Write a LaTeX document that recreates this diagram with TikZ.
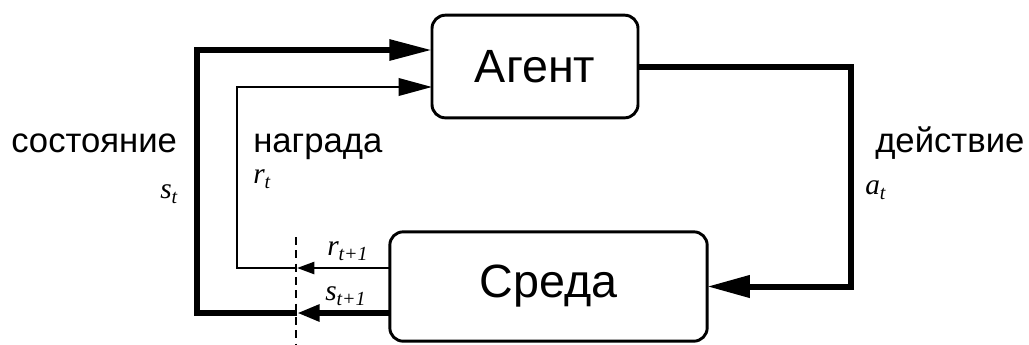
\documentclass[tikz,border=0pt]{standalone}
\usepackage{fontspec}
\setmainfont{Liberation Sans}
\newfontfamily\mserif{Liberation Serif}
\usetikzlibrary{arrows.meta}
\newcommand\mv[2]{{\fontsize{22}{26}\selectfont\mserif\itshape #1}\raisebox{-4pt}{\fontsize{15}{18}\selectfont\mserif\itshape #2}}
\begin{document}
\begin{tikzpicture}[x=0.75pt,y=-0.75pt,
 box/.style={draw, line width=2.2pt, rounded corners=10pt, inner sep=0pt, outer sep=0pt, font=\fontsize{35}{40}\selectfont},
 lab/.style={inner sep=0pt, anchor=base west, font=\fontsize{26}{30}\selectfont},
 mlab/.style={inner sep=0pt, anchor=base west},
 fat/.style={line width=4.5pt},
 slim/.style={line width=1.9pt},
 dashline/.style={line width=1.1pt, dash pattern=on 6pt off 4pt},
]
\useasboundingbox (0,0) rectangle (1029,344);
\node[box, minimum width=154.5pt, minimum height=77pt] (agent) at (535,66.5) {Агент};
\node[box, minimum width=238pt, minimum height=82pt] (env) at (548.5,286.5) {Среда};

\coordinate (dtop) at (296,237);
\coordinate (dbot) at (296,346);
\coordinate (ds) at (297,313);
\coordinate (dr) at (297,268);
\coordinate (sl) at (197,313);
\coordinate (su) at (197,50);
\coordinate (rl) at (237,268);
\coordinate (ru) at (237,87);
\coordinate (ab) at (851,286.5);

\draw[dashline] (dtop) -- (dbot);
\draw[fat, -{Triangle[length=17pt,width=12pt]}] (env.west |- ds) -- (ds);
\draw[fat, -{Triangle[length=32pt,width=15pt]}] (ds) -- (sl) -- (su) -- (agent.west |- su);
\draw[slim, -{Triangle[length=13pt,width=9pt]}] (env.west |- dr) -- (dr);
\draw[slim, -{Triangle[length=25pt,width=13pt]}] (dr) -- (rl) -- (ru) -- (agent.west |- ru);
\draw[fat, -{Triangle[length=32pt,width=16pt]}] (agent.east) -| (ab) -- (env.east);

\node[lab] (lstate) at (11,152) {состояние};
\node[lab] (lreward) at (253,152) {награда};
\node[lab] (laction) at (875,152) {действие};
\node[mlab] (st) at (160,198) {\mv{s}{t}};
\node[mlab] (rt) at (253,183) {\mv{r}{t}};
\node[mlab] (at) at (865,194) {\mv{a}{t}};
\node[mlab] (rt1) at (327,255) {\mv{r}{t+1}};
\node[mlab] (st1) at (325,300) {\mv{s}{t+1}};
\end{tikzpicture}
\end{document}
